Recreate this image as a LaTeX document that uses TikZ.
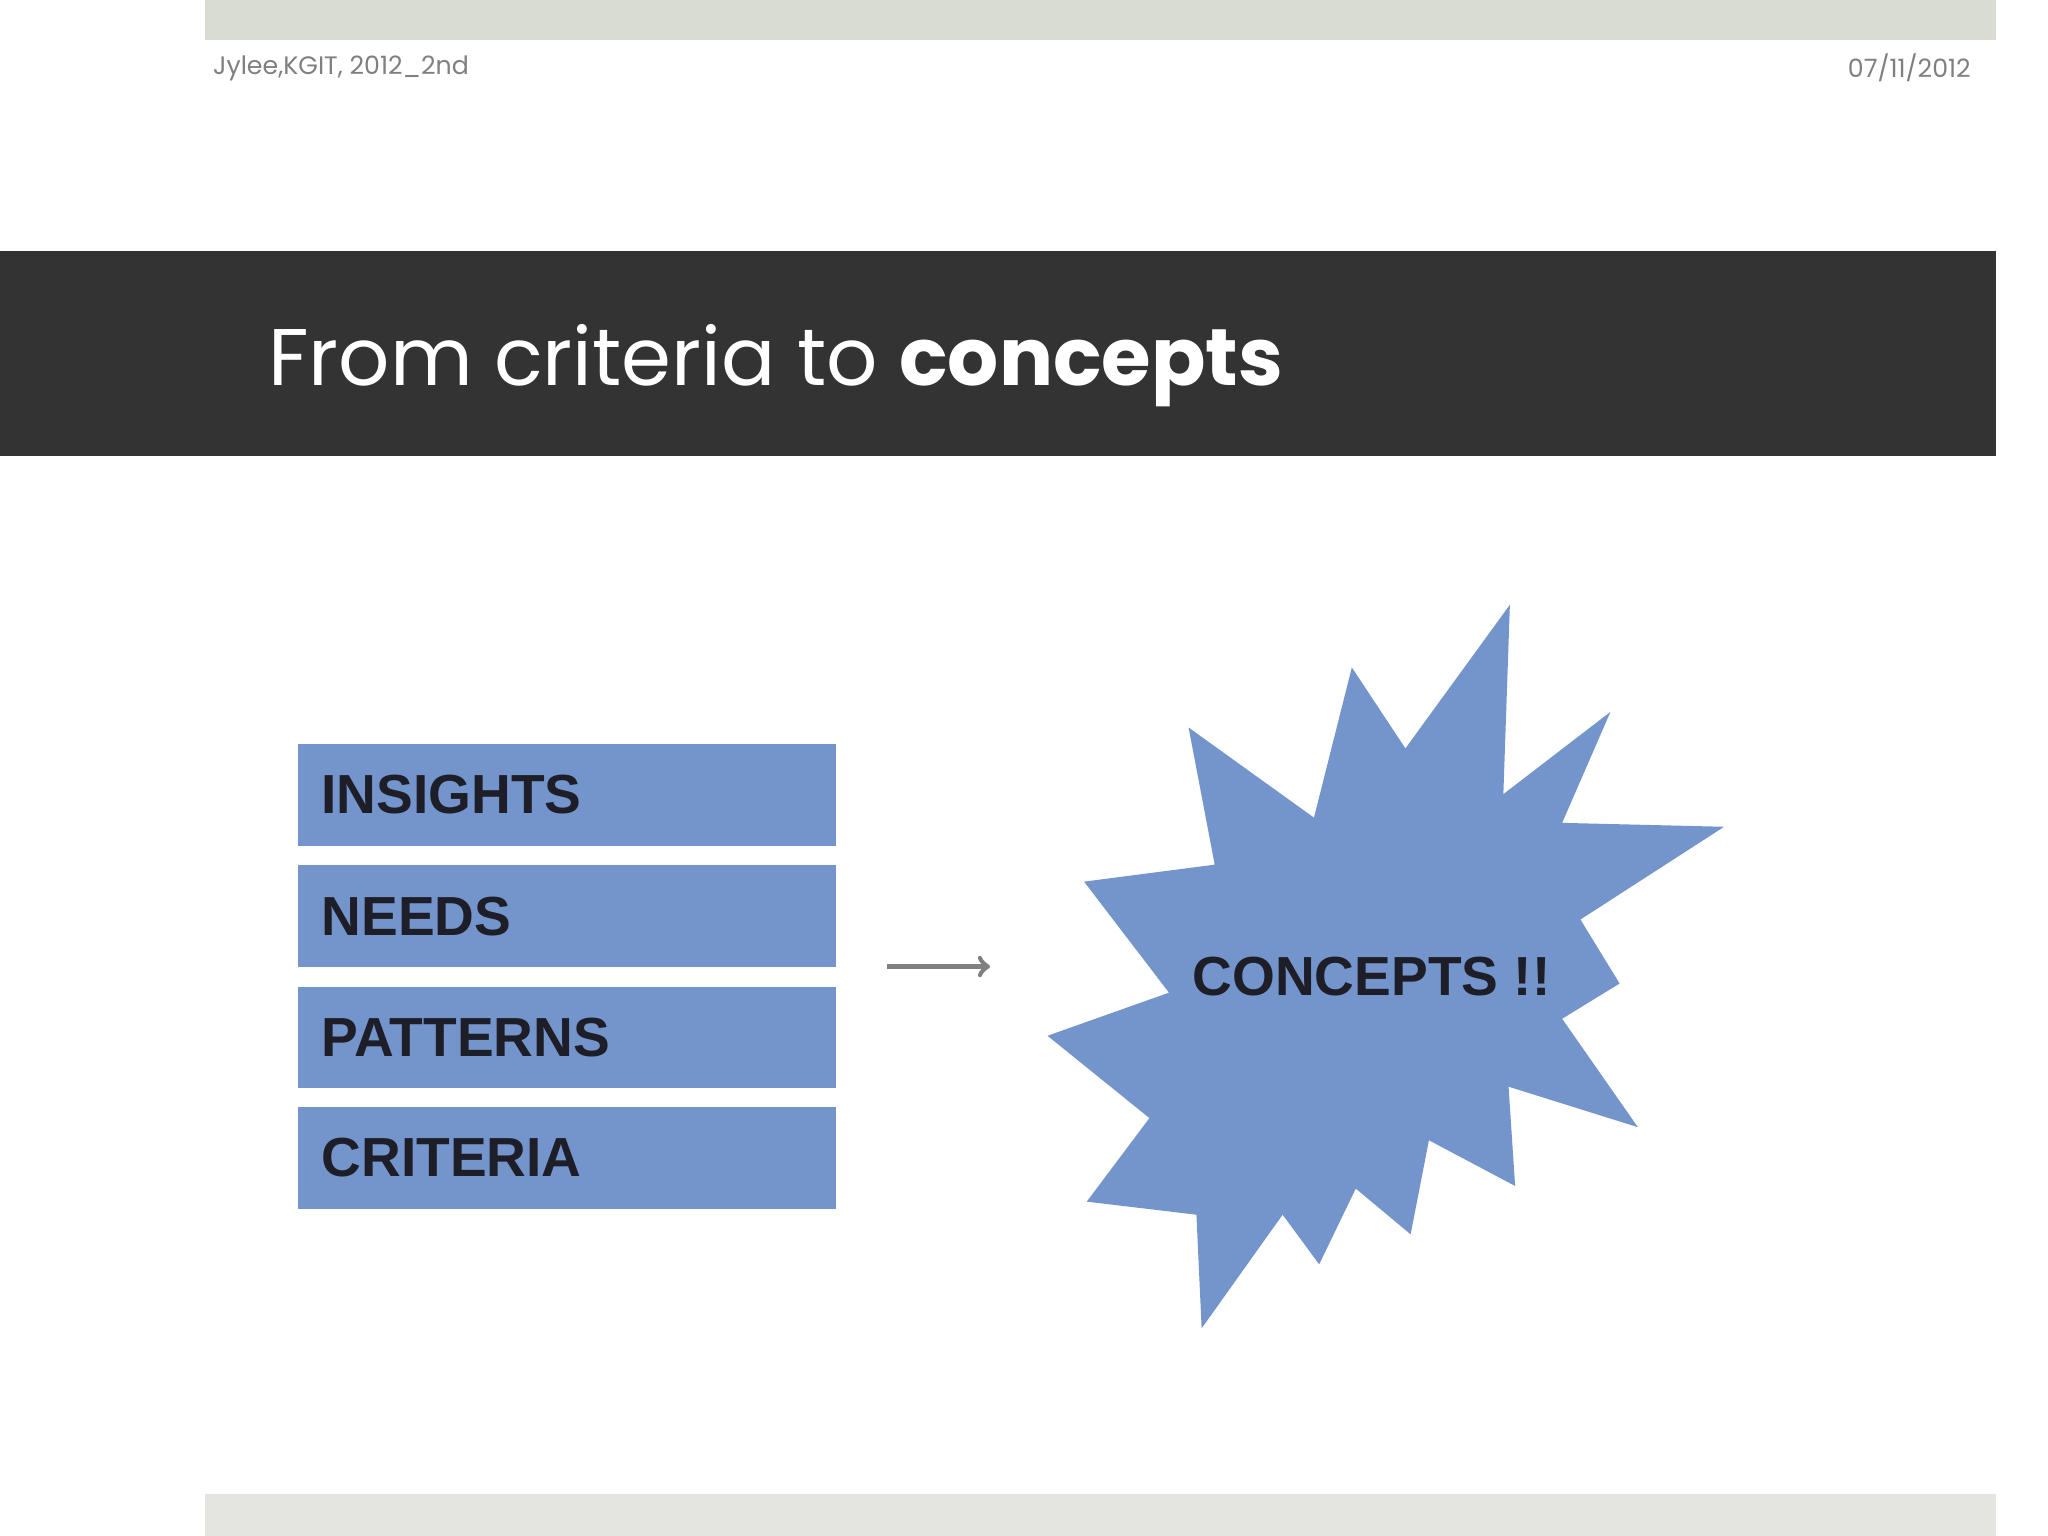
\documentclass[tikz,border=0pt]{standalone}
\usepackage{fontspec}
\setmainfont{Poppins}
\newfontfamily\boxfont{Liberation Sans}
\begin{document}
\begin{tikzpicture}[x=0.02cm,y=-0.02cm,
  bluebox/.style={fill=boxblue,draw=none,minimum width=412*0.02cm,minimum height=78*0.02cm,anchor=north west,inner sep=0},
  boxtext/.style={font=\boxfont\bfseries\fontsize{24}{28}\selectfont,text=textdark,anchor=west}]
\definecolor{boxblue}{HTML}{7494CC}
\definecolor{textdark}{HTML}{1E1E28}
\definecolor{topbar}{HTML}{D9DCD3}
\definecolor{botbar}{HTML}{E4E5E0}
\definecolor{titlebar}{HTML}{333333}
\useasboundingbox (0,0) rectangle (1568,1176);
\fill[white] (0,0) rectangle (1568,1176);
\fill[topbar] (157,0) rectangle (1528,31);
\fill[botbar] (157,1144) rectangle (1528,1176);
\node[anchor=west,text=gray,font=\fontsize{11}{13}\selectfont] (hl) at (157,52) {Jylee,KGIT, 2012\_2nd};
\node[anchor=east,text=gray,font=\fontsize{11}{13}\selectfont] (hr) at (1515,52) {07/11/2012};
\fill[titlebar] (0,192) rectangle (1528,349);
\node[anchor=base west,text=white,font=\fontsize{35}{40}\selectfont,inner sep=0] (title) at (205,295) {From criteria to \textbf{concepts}};
\node[bluebox] (b1) at (228,569) {};
\node[bluebox] (b2) at (228,662) {};
\node[bluebox] (b3) at (228,755) {};
\node[bluebox] (b4) at (228,847) {};
\node[boxtext] at ([xshift=12*0.02cm]b1.west) {INSIGHTS};
\node[boxtext] at ([xshift=12*0.02cm]b2.west) {NEEDS};
\node[boxtext] at ([xshift=12*0.02cm]b3.west) {PATTERNS};
\node[boxtext] at ([xshift=12*0.02cm]b4.west) {CRITERIA};
\fill[boxblue] (1156,463)--(1151,608)--(1233,545)--(1196,630)--(1320,633)--(1210,704)--(1240,753)--(1196,780)--(1254,863)--(1155,832)--(1160,908)--(1094,873)--(1080,945)--(1038,910)--(1010,968)--(982,930)--(920,1017)--(916,930)--(832,920)--(880,856)--(802,793)--(895,760)--(830,675)--(930,662)--(910,557)--(1006,626)--(1035,511)--(1076,573)--cycle;
\node[font=\boxfont\bfseries\fontsize{24}{28}\selectfont,text=textdark] (concepts) at (1050,748) {CONCEPTS !!};
\coordinate (a1) at (679,740);
\coordinate (a2) at (758,740);
\draw[gray,line width=2.2pt,->] (a1) -- (a2);
\end{tikzpicture}
\end{document}
